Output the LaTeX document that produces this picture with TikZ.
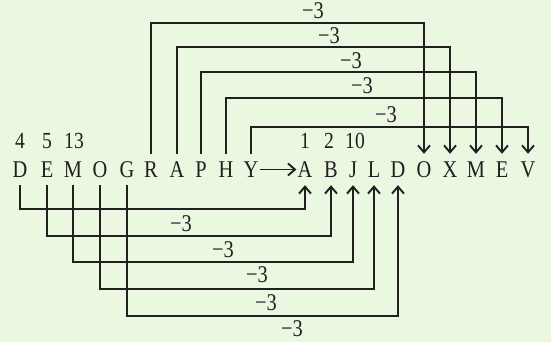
\documentclass[tikz,border=0pt]{standalone}
\usepackage{fontspec}
\setmainfont{Liberation Serif}
\newfontfamily\narrowserif[FakeStretch=0.85]{Liberation Serif}
\usetikzlibrary{arrows.meta}
\definecolor{paper}{HTML}{EAF7E1}
\definecolor{ink}{HTML}{231F20}
\tikzset{
  letter/.style={anchor=base, text=ink, font=\narrowserif\fontsize{24}{24}\selectfont,
    text height=15pt, text depth=0pt, inner xsep=1pt, inner ysep=8pt},
  num/.style={anchor=base, text=ink, font=\narrowserif\fontsize{23}{23}\selectfont, inner sep=0pt},
  lbl/.style={text=ink, font=\narrowserif\fontsize{24}{24}\selectfont, inner sep=0pt},
  wire/.style={draw=ink, line width=1.5pt},
  arr/.style={wire, -{Straight Barb[length=7pt,width=12pt,line width=1.9pt]}}
}
\begin{document}
\begin{tikzpicture}[x=1pt,y=-1pt]
\fill[paper] (0,0) rectangle (551,342);
\useasboundingbox (0,0) rectangle (551,342);

% left word
\node[letter] (d1) at (20,177) {D};
\node[letter] (e1) at (47,177) {E};
\node[letter] (m1) at (73,177) {M};
\node[letter] (o1) at (100,177) {O};
\node[letter] (g1) at (127,177) {G};
\node[letter] (r1) at (151,177) {R};
\node[letter] (a1) at (177,177) {A};
\node[letter] (p1) at (201,177) {P};
\node[letter] (h1) at (226,177) {H};
\node[letter] (y1) at (251,177) {Y};
% right word
\node[letter] (a2) at (305,177) {A};
\node[letter] (b2) at (331,177) {B};
\node[letter] (j2) at (353,177) {J};
\node[letter] (l2) at (374,177) {L};
\node[letter] (d2) at (398,177) {D};
\node[letter] (o2) at (424,177) {O};
\node[letter] (x2) at (450,177) {X};
\node[letter] (m2) at (476,177) {M};
\node[letter] (e2) at (502,177) {E};
\node[letter] (v2) at (528,177) {V};

% numbers above
\node[num] (n4) at (20,148) {4};
\node[num] (n5) at (47,148) {5};
\node[num] (n13) at (74,148) {13};
\node[num] (n1) at (305,148) {1};
\node[num] (n2) at (329,148) {2};
\node[num] (n10) at (355,148) {10};

% straight arrow
\draw[arr] (y1.east) -- (a2.west);

% upper connectors
\coordinate (hi1) at (0,23);
\coordinate (hi2) at (0,47);
\coordinate (hi3) at (0,72);
\coordinate (hi4) at (0,98);
\coordinate (hi5) at (0,127);
\draw[arr] (r1.north) -- (r1.north |- hi1) -| (o2.north);
\draw[arr] (a1.north) -- (a1.north |- hi2) -| (x2.north);
\draw[arr] (p1.north) -- (p1.north |- hi3) -| (m2.north);
\draw[arr] (h1.north) -- (h1.north |- hi4) -| (e2.north);
\draw[arr] (y1.north) -- (y1.north |- hi5) -| (v2.north);
\node[lbl] (u1) at (313,11) {\textminus3};
\node[lbl] (u2) at (329,36) {\textminus3};
\node[lbl] (u3) at (351,61) {\textminus3};
\node[lbl] (u4) at (362,86) {\textminus3};
\node[lbl] (u5) at (386,115) {\textminus3};

% lower connectors
\coordinate (lo1) at (0,209);
\coordinate (lo2) at (0,236);
\coordinate (lo3) at (0,262);
\coordinate (lo4) at (0,289);
\coordinate (lo5) at (0,316);
\draw[arr] (d1.south) -- (d1.south |- lo1) -| (a2.south);
\draw[arr] (e1.south) -- (e1.south |- lo2) -| (b2.south);
\draw[arr] (m1.south) -- (m1.south |- lo3) -| (j2.south);
\draw[arr] (o1.south) -- (o1.south |- lo4) -| (l2.south);
\draw[arr] (g1.south) -- (g1.south |- lo5) -| (d2.south);
\node[lbl] (w1) at (181,224) {\textminus3};
\node[lbl] (w2) at (223,250) {\textminus3};
\node[lbl] (w3) at (257,275) {\textminus3};
\node[lbl] (w4) at (266,303) {\textminus3};
\node[lbl] (w5) at (292,329) {\textminus3};
\end{tikzpicture}
\end{document}
